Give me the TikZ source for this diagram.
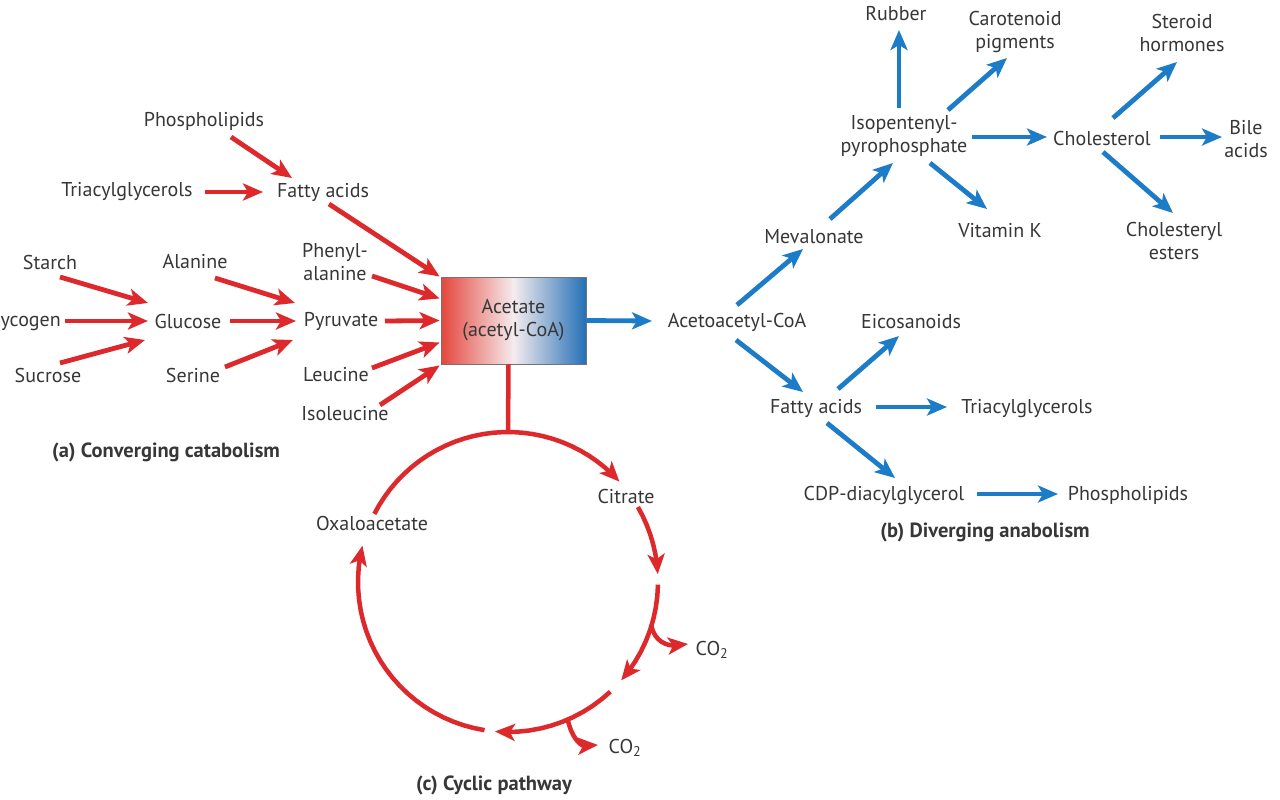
\documentclass[tikz,border=0pt]{standalone}
\usepackage{fontspec}
\setmainfont{PT Sans}
\usetikzlibrary{arrows.meta,calc}
\definecolor{ared}{RGB}{221,40,44}
\definecolor{ablue}{RGB}{28,124,200}
\definecolor{txt}{RGB}{55,55,55}
\definecolor{boxred}{RGB}{228,70,60}
\definecolor{boxblue}{RGB}{36,112,182}
\definecolor{boxmid}{RGB}{245,236,238}
\begin{document}
\begin{tikzpicture}[x=1pt,y=-1pt,
  lbl/.style={text=txt, font=\fontsize{20}{23}\selectfont, inner sep=0pt, align=center},
  captxt/.style={text=txt, font=\fontsize{20.5}{24}\selectfont\bfseries, inner sep=0pt},
  tipx/.style={-{Stealth[length=20pt,width=17pt,inset=5pt]}},
  redarr/.style={draw=ared, line width=4.8pt, tipx},
  bluearr/.style={draw=ablue, line width=4.8pt, tipx},
  cyc/.style={draw=ared, line width=4.5pt},
  cycarr/.style={cyc, tipx},
]
\fill[white] (0,0) rectangle (1280,800);
\useasboundingbox (0,0) rectangle (1280,800);

% ---------- (a) converging catabolism ----------
\node[lbl] (phosA) at (204,121) {Phospholipids};
\node[lbl] (tagA) at (127,192) {Triacylglycerols};
\node[lbl] (faA) at (323,192) {Fatty acids};
\node[lbl] (starch) at (50,262) {Starch};
\node[lbl, anchor=east] (glycogen) at (61,321) {Glycogen};
\node[lbl] (sucrose) at (48,375) {Sucrose};
\node[lbl] (glucose) at (188,321) {Glucose};
\node[lbl] (alanine) at (195,262) {Alanine};
\node[lbl] (serine) at (193,375) {Serine};
\node[lbl] (pyruvate) at (341,321) {Pyruvate};
\node[lbl] (phe) at (335,262) {Phenyl-\\alanine};
\node[lbl] (leucine) at (336,375) {Leucine};
\node[lbl] (isoleucine) at (345,414) {Isoleucine};
\node[captxt] (capa) at (166,452) {(a) Converging catabolism};

\node[draw=black!55, line width=0.8pt, minimum width=145pt, minimum height=87pt, inner sep=0pt,
      shading=axis, left color=boxred, right color=boxblue, middle color=boxmid,
      text=txt, font=\fontsize{20}{23}\selectfont, align=center] (box) at (513.5,320.5)
      {\raisebox{5pt}{\parbox{140pt}{\centering Acetate\\(acetyl-CoA)}}};

\draw[redarr] ([shift={(27,16)}]phosA.center) -- ([shift={(-31,-14)}]faA.center);
\draw[redarr] ([shift={(78,0)}]tagA.center) -- ([shift={(-60,0)}]faA.center);
\draw[redarr] ([shift={(6,12)}]faA.center) -- ([shift={(-1,-44)}]box.west);
\draw[redarr] ([shift={(37,14)}]phe.center) -- ([shift={(-1,-22)}]box.west);
\draw[redarr] ([shift={(44,0)}]pyruvate.center) -- ([shift={(-1,0)}]box.west);
\draw[redarr] ([shift={(36,-7)}]leucine.center) -- ([shift={(-1,22)}]box.west);
\draw[redarr] ([shift={(35,-9)}]isoleucine.center) -- ([shift={(-1,45)}]box.west);
\draw[redarr] ([shift={(10,15)}]starch.center) -- ([shift={(-40,-18)}]glucose.center);
\draw[redarr] ([shift={(4,0)}]glycogen.east) -- ([shift={(-40,0)}]glucose.center);
\draw[redarr] ([shift={(12,-12)}]sucrose.center) -- ([shift={(-43,19)}]glucose.center);
\draw[redarr] ([shift={(20,16)}]alanine.center) -- ([shift={(-46,-18)}]pyruvate.center);
\draw[redarr] ([shift={(42,0)}]glucose.center) -- ([shift={(-45,0)}]pyruvate.center);
\draw[redarr] ([shift={(32,-8)}]serine.center) -- ([shift={(-48,19)}]pyruvate.center);

% ---------- (b) diverging anabolism ----------
\node[lbl] (aceto) at (737,322) {Acetoacetyl-CoA};
\node[lbl] (meval) at (814,237) {Mevalonate};
\node[lbl] (ipp) at (904,136) {Isopentenyl-\\pyrophosphate};
\node[lbl] (rubber) at (896,14) {Rubber};
\node[lbl] (carot) at (1015,32) {Carotenoid\\pigments};
\node[lbl] (vitk) at (1000,231) {Vitamin K};
\node[lbl] (chol) at (1102,138) {Cholesterol};
\node[lbl] (steroid) at (1182,33) {Steroid\\hormones};
\node[lbl] (bile) at (1246,139) {Bile\\acids};
\node[lbl] (cholest) at (1174,241) {Cholesteryl\\esters};
\node[lbl] (eico) at (911,322) {Eicosanoids};
\node[lbl] (faB) at (816,408) {Fatty acids};
\node[lbl] (tagB) at (1027,409) {Triacylglycerols};
\node[lbl] (cdp) at (884,495) {CDP-diacylglycerol};
\node[lbl] (phosB) at (1128,495) {Phospholipids};
\node[captxt] (capb) at (985,532) {(b) Diverging anabolism};

\draw[bluearr] (box.east) -- ([shift={(-85,-1)}]aceto.center);
\draw[bluearr] ([shift={(0,-17)}]aceto.center) -- ([shift={(-11,12)}]meval.center);
\draw[bluearr] ([shift={(16,-18)}]meval.center) -- ([shift={(-11,27)}]ipp.center);
\draw[bluearr] ([shift={(-5,-28)}]ipp.center) -- ([shift={(3,16)}]rubber.center);
\draw[bluearr] ([shift={(44,-26)}]ipp.center) -- ([shift={(-8,26)}]carot.center);
\draw[bluearr] ([shift={(26,27)}]ipp.center) -- ([shift={(-13,-22)}]vitk.center);
\draw[bluearr] ([shift={(68,1)}]ipp.center) -- ([shift={(-55,-1)}]chol.center);
\draw[bluearr] ([shift={(11,-20)}]chol.center) -- ([shift={(-5,29)}]steroid.center);
\draw[bluearr] ([shift={(58,-1)}]chol.center) -- ([shift={(-24,-2)}]bile.center);
\draw[bluearr] ([shift={(1,14)}]chol.center) -- ([shift={(-1,-28)}]cholest.center);
\draw[bluearr] ([shift={(-1,18)}]aceto.center) -- ([shift={(-13,-16)}]faB.center);
\draw[bluearr] ([shift={(22,-19)}]faB.center) -- ([shift={(-12,14)}]eico.center);
\draw[bluearr] ([shift={(60,-1)}]faB.center) -- ([shift={(-80,-2)}]tagB.center);
\draw[bluearr] ([shift={(11,15)}]faB.center) -- ([shift={(11,-17)}]cdp.center);
\draw[bluearr] ([shift={(93,-1)}]cdp.center) -- ([shift={(-70,-1)}]phosB.center);

% ---------- (c) cyclic pathway ----------
\node[lbl] (citrate) at (626,496) {Citrate};
\node[lbl] (oxalo) at (372,523) {Oxaloacetate};
\node[lbl] (co2a) at (712,650) {CO\textsubscript{2}};
\node[lbl] (co2b) at (625,748) {CO\textsubscript{2}};
\node[captxt] (capc) at (494,785) {(c) Cyclic pathway};

\coordinate (ctop) at (508,432);
\draw[cyc] ([shift={(-5,0)}]box.south) -- (ctop);
\draw[cycarr] plot[domain=207:318,samples=30] ({508+150*cos(\x)},{582+150*sin(\x)});
\draw[cycarr] plot[domain=330:357,samples=8] ({508+150*cos(\x)},{582+150*sin(\x)});
\draw[cycarr] plot[domain=1:41,samples=10] ({508+150*cos(\x)},{582+150*sin(\x)});
\draw[cycarr] plot[domain=47:95,samples=12] ({508+150*cos(\x)},{582+150*sin(\x)});
\draw[cycarr] plot[domain=99:194,samples=24] ({508+150*cos(\x)},{582+150*sin(\x)});

\coordinate (b1) at ({508+150*cos(17)},{582+150*sin(17)});
\coordinate (b2) at ({508+150*cos(66.5)},{582+150*sin(66.5)});
\draw[cycarr] (b1) .. controls +(3,16) and +(-20,2) .. ([shift={(-24,-6)}]co2a.center);
\draw[cycarr] (b2) .. controls +(3,16) and +(-18,1) .. ([shift={(-27,-3)}]co2b.center);
\end{tikzpicture}
\end{document}
